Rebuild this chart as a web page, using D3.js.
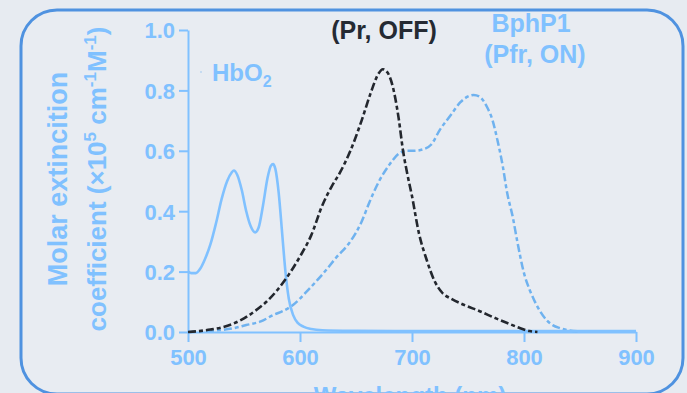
<!DOCTYPE html>
<html lang="en">
<head>
  <meta charset="UTF-8"/>
  <title>Molar extinction spectra: HbO2 and BphP1</title>
  <script src="https://d3js.org/d3.v7.min.js"></script>
  <style>
    html, body { margin: 0; padding: 0; background: #e7ebf1; }
    svg { display: block; font-family: "Liberation Sans", Arial, Helvetica, sans-serif; font-weight: bold; }
    .axis path, .axis line { stroke: #80c1ff; stroke-width: 2px; }
    .axis text { fill: #80c1ff; font-size: 22px; font-weight: bold; font-family: "Liberation Sans", Arial, sans-serif; }
  </style>
</head>
<body>
<svg id="chart" width="687" height="393"></svg>
<script>
// HbO2 absorption (solid)
const hbWl  = [500, 503, 507, 511, 515, 520, 525, 530, 535, 539, 541, 544, 548, 552, 556, 560, 563, 567, 571, 574, 576, 578, 581, 584, 587, 590, 594, 598, 603, 610, 620, 650, 700, 800, 900];
const hbVal = [0.20, 0.195, 0.195, 0.21, 0.24, 0.29, 0.36, 0.44, 0.50, 0.528, 0.535, 0.52, 0.47, 0.40, 0.35, 0.33, 0.345, 0.42, 0.51, 0.55, 0.556, 0.54, 0.46, 0.33, 0.20, 0.11, 0.055, 0.03, 0.018, 0.01, 0.006, 0.004, 0.003, 0.003, 0.003];

// BphP1 Pr state (OFF)
const prWl  = [500, 510, 520, 530, 540, 550, 560, 570, 580, 590, 600, 610, 620, 628, 636, 645, 655, 663, 670, 674, 678, 683, 688, 692, 696, 700, 706, 713, 720, 727, 735, 745, 761, 775, 785, 795, 805, 812];
const prVal = [0, 0.003, 0.008, 0.015, 0.027, 0.045, 0.07, 0.10, 0.14, 0.19, 0.25, 0.32, 0.42, 0.48, 0.53, 0.60, 0.70, 0.79, 0.855, 0.87, 0.86, 0.81, 0.71, 0.60, 0.52, 0.45, 0.33, 0.24, 0.17, 0.13, 0.11, 0.092, 0.068, 0.045, 0.03, 0.015, 0.003, 0];

// BphP1 Pfr state (ON)
const pfrWl  = [500, 520, 540, 552, 565, 576, 585, 594, 605, 615, 621, 632, 645, 655, 662, 670, 680, 688, 695, 702, 710, 717, 725, 735, 743, 750, 755, 760, 767, 772, 776, 781, 785, 790, 794, 800, 805, 809, 815, 820, 826, 832, 840, 850];
const pfrVal = [0, 0.004, 0.012, 0.023, 0.035, 0.056, 0.07, 0.09, 0.13, 0.17, 0.195, 0.245, 0.30, 0.365, 0.43, 0.495, 0.555, 0.59, 0.60, 0.60, 0.605, 0.62, 0.67, 0.72, 0.76, 0.78, 0.785, 0.78, 0.745, 0.70, 0.64, 0.55, 0.46, 0.38, 0.30, 0.195, 0.14, 0.106, 0.065, 0.04, 0.022, 0.013, 0.005, 0.002];

const xTicks = [500, 600, 700, 800, 900];
const yTicks = [0, 0.2, 0.4, 0.6, 0.8, 1.0];

const svg = d3.select('#chart');
const lightBlue = '#80c1ff';

// rounded panel frame (runs off the bottom edge)
svg.append('rect')
  .attr('x', 21).attr('y', 10).attr('width', 662).attr('height', 384)
  .attr('rx', 36).attr('ry', 36)
  .attr('fill', '#e8ecf2').attr('stroke', '#4f92e0').attr('stroke-width', 3);

const x = d3.scaleLinear().domain([500, 900]).range([188, 636]);
const y = d3.scaleLinear().domain([0, 1]).range([332, 30]);

// axes
const gx = svg.append('g').attr('class', 'axis')
  .attr('transform', 'translate(0,332)')
  .call(d3.axisBottom(x).tickValues(xTicks).tickSize(10).tickSizeOuter(0).tickPadding(7).tickFormat(d3.format('d')));
const gy = svg.append('g').attr('class', 'axis')
  .attr('transform', 'translate(188,0)')
  .call(d3.axisLeft(y).tickValues(yTicks).tickSize(9).tickSizeOuter(0).tickPadding(4).tickFormat(d3.format('.1f')));
gx.selectAll('.tick text').attr('dy', '0.72em');
gy.selectAll('.tick text').attr('dy', '0.36em');

const line = d3.line().x(d => x(d[0])).y(d => y(d[1])).curve(d3.curveMonotoneX);

svg.append('path')
  .datum(pfrWl.map((w, i) => [w, pfrVal[i]]))
  .attr('d', line).attr('fill', 'none')
  .attr('stroke', '#6fb2ef').attr('stroke-width', 2.5)
  .attr('stroke-dasharray', '8,3,4,3');

svg.append('path')
  .datum(hbWl.map((w, i) => [w, hbVal[i]]))
  .attr('d', line).attr('fill', 'none')
  .attr('stroke', lightBlue).attr('stroke-width', 2.6);

svg.append('path')
  .datum(prWl.map((w, i) => [w, prVal[i]]))
  .attr('d', line).attr('fill', 'none')
  .attr('stroke', '#23272e').attr('stroke-width', 2.6)
  .attr('stroke-dasharray', '8,3,4,3');

// series labels
const hb = svg.append('text').attr('x', 212).attr('y', 81)
  .attr('fill', lightBlue).attr('font-size', 24);
hb.append('tspan').text('HbO');
hb.append('tspan').text('2').attr('font-size', 16).attr('dy', 6);
svg.append('circle').attr('cx', 201).attr('cy', 72).attr('r', 0.8).attr('fill', '#9cc6ee');

svg.append('text').attr('x', 384).attr('y', 39).attr('text-anchor', 'middle')
  .attr('fill', '#252a33').attr('font-size', 25).text('(Pr, OFF)');

svg.append('text').attr('x', 531).attr('y', 32).attr('text-anchor', 'middle')
  .attr('fill', lightBlue).attr('font-size', 25).text('BphP1');
svg.append('text').attr('x', 535).attr('y', 63).attr('text-anchor', 'middle')
  .attr('fill', lightBlue).attr('font-size', 25).text('(Pfr, ON)');

// axis titles
const yt = svg.append('g').attr('transform', 'translate(0,179) rotate(-90)');
yt.append('text').attr('x', 0).attr('y', 67).attr('text-anchor', 'middle')
  .attr('fill', lightBlue).attr('font-size', 27).text('Molar extincition');
const yt2 = yt.append('text').attr('x', 0).attr('y', 106).attr('text-anchor', 'middle')
  .attr('fill', lightBlue).attr('font-size', 26);
yt2.append('tspan').text('coefficient (×10');
yt2.append('tspan').text('5').attr('font-size', 17).attr('dy', -10);
yt2.append('tspan').text(' cm').attr('dy', 10);
yt2.append('tspan').text('-1').attr('font-size', 17).attr('dy', -10);
yt2.append('tspan').text('M').attr('dy', 10);
yt2.append('tspan').text('-1').attr('font-size', 17).attr('dy', -10);
yt2.append('tspan').text(')').attr('dy', 10);

svg.append('text').attr('x', 410).attr('y', 404).attr('text-anchor', 'middle')
  .attr('fill', lightBlue).attr('font-size', 24).text('Wavelength (nm)');
</script>
</body>
</html>
